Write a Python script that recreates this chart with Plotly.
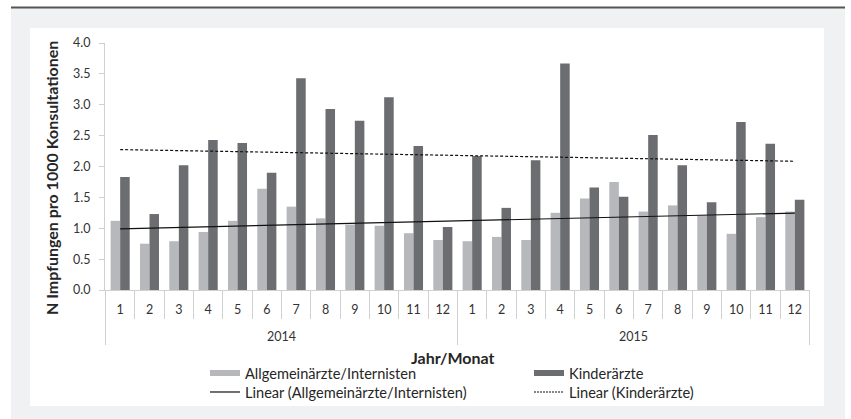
import numpy as np
import plotly.graph_objects as go

years = ["2014"] * 12 + ["2015"] * 12
months = [str(m) for m in range(1, 13)] * 2
year_labels = ["2014", "2015"]

allgemein = [1.12, 0.75, 0.79, 0.94, 1.12, 1.64, 1.35, 1.16, 1.06, 1.04, 0.92, 0.81,
             0.79, 0.86, 0.81, 1.25, 1.48, 1.75, 1.27, 1.37, 1.21, 0.91, 1.18, 1.27]
kinder = [1.83, 1.23, 2.02, 2.43, 2.38, 1.90, 3.43, 2.93, 2.74, 3.12, 2.33, 1.02,
          2.17, 1.33, 2.10, 3.67, 1.66, 1.51, 2.51, 2.02, 1.42, 2.72, 2.37, 1.46]

yticks = [0.0, 0.5, 1.0, 1.5, 2.0, 2.5, 3.0, 3.5, 4.0]

cats = [f"{y}-{m}" for y, m in zip(years, months)]
idx = np.arange(1, len(allgemein) + 1)
def trend(vals):
    a, b = np.polyfit(idx, vals, 1)
    return list(a * idx + b)

FONT = "Lato"
LIGHT = "#b7b8bc"
DARK = "#6c6d71"
AX = "#d0d0d0"
TXT = "#262626"

L, R, T, B = 105, 41, 43, 129
W, H = 851, 419
pw, ph = W - L - R, H - T - B
def px(xp):
    return (xp - L) / pw
def py(yp):
    return (H - B - yp) / ph

fig = go.Figure()
fig.add_trace(go.Bar(x=cats, y=allgemein, name="Allgemeinärzte/Internisten", showlegend=False,
                     marker=dict(color=LIGHT, line=dict(width=0))))
fig.add_trace(go.Bar(x=cats, y=kinder, name="Kinderärzte", showlegend=False,
                     marker=dict(color=DARK, line=dict(width=0))))
fig.add_trace(go.Scatter(x=cats, y=trend(allgemein), mode="lines", showlegend=False,
                         name="Linear (Allgemeinärzte/Internisten)",
                         line=dict(color="#111111", width=1.2)))
fig.add_trace(go.Scatter(x=cats, y=trend(kinder), mode="lines", showlegend=False,
                         name="Linear (Kinderärzte)",
                         line=dict(color="#111111", width=1.2, dash="3px,2px")))
# legend entries (Excel-style wide swatches), one legend box per slot of the 2x2 grid
fig.add_trace(go.Scatter(x=[None], y=[None], mode="lines", name="Allgemeinärzte/Internisten",
                         line=dict(color=LIGHT, width=6), legend="legend"))
fig.add_trace(go.Scatter(x=[None], y=[None], mode="lines", name="Kinderärzte",
                         line=dict(color=DARK, width=6), legend="legend2"))
fig.add_trace(go.Scatter(x=[None], y=[None], mode="lines", name="Linear (Allgemeinärzte/Internisten)",
                         line=dict(color="#111111", width=1.2), legend="legend3"))
fig.add_trace(go.Scatter(x=[None], y=[None], mode="lines", name="Linear (Kinderärzte)",
                         line=dict(color="#111111", width=1.2, dash="2px,1px"), legend="legend4"))

shapes = [
    dict(type="rect", xref="paper", yref="paper", x0=px(11), x1=px(845), y0=py(419), y1=py(8),
         fillcolor="#f0f1f3", line=dict(width=0), layer="below"),
    dict(type="rect", xref="paper", yref="paper", x0=px(30), x1=px(824), y0=py(406), y1=py(28),
         fillcolor="#ffffff", line=dict(width=0), layer="below"),
    dict(type="line", xref="paper", yref="paper", x0=px(11), x1=px(845), y0=py(7.5), y1=py(7.5),
         line=dict(color="#555555", width=2), layer="below"),
]
# year dividers at category boundaries
for b in [-0.5, 11.5, 23.5]:
    shapes.append(dict(type="line", xref="x", yref="paper", x0=b, x1=b, y0=0, y1=py(345),
                       line=dict(color=AX, width=1)))

annotations = [
    dict(text="<b>Jahr/Monat</b>", xref="paper", yref="paper", x=px(453), y=py(357),
         xanchor="center", yanchor="middle",
         showarrow=False, font=dict(family=FONT, size=16, color=TXT)),
    dict(text="<b>N Impfungen pro 1000 Konsultationen</b>", xref="paper", yref="paper",
         x=px(52), y=py(178), textangle=-90, xanchor="center", yanchor="middle",
         showarrow=False, font=dict(family=FONT, size=16, color=TXT)),
]
for i, yl in enumerate(year_labels):
    annotations.append(dict(text=yl, xref="x", yref="paper", x=5.5 + 12 * i, y=py(336),
                            xanchor="center", yanchor="middle", showarrow=False,
                            font=dict(family=FONT, size=12.5, color="#333333")))

legfont = dict(family=FONT, size=14.6, color=TXT)
def leg(xp, yp):
    return dict(orientation="v", x=px(xp), xanchor="left", y=py(yp), yanchor="top",
                bgcolor="rgba(0,0,0,0)", font=legfont, itemwidth=30, tracegroupgap=0)

fig.update_layout(
    width=W, height=H,
    margin=dict(l=L, r=R, t=T, b=B, autoexpand=False),
    paper_bgcolor="#ffffff", plot_bgcolor="rgba(0,0,0,0)",
    font=dict(family=FONT, size=12, color="#333333"),
    barmode="group", bargap=0.35, bargroupgap=0,
    showlegend=True,
    legend=leg(205, 357),
    legend2=leg(529, 357),
    legend3=leg(205, 376),
    legend4=leg(529, 376),
    shapes=shapes,
    annotations=annotations,
)
fig.update_yaxes(range=[0, 4], tickvals=yticks, ticktext=[f"{v:.1f}" for v in yticks],
                 showgrid=False, zeroline=False, showline=True, linecolor=AX, linewidth=1,
                 ticks="outside", ticklen=5, tickcolor=AX, ticklabelstandoff=6,
                 tickfont=dict(family=FONT, size=12.5, color="#333333"))
fig.update_xaxes(type="category", tickvals=cats, ticktext=months, showgrid=False,
                 showline=True, linecolor=AX, linewidth=1,
                 ticks="outside", tickson="boundaries", ticklen=28, tickcolor=AX,
                 ticklabelstandoff=8,
                 tickfont=dict(family=FONT, size=12.5, color="#333333"))

fig.write_html("out.html", config={"displayModeBar": False},
               post_script="document.body.style.margin='0';")
